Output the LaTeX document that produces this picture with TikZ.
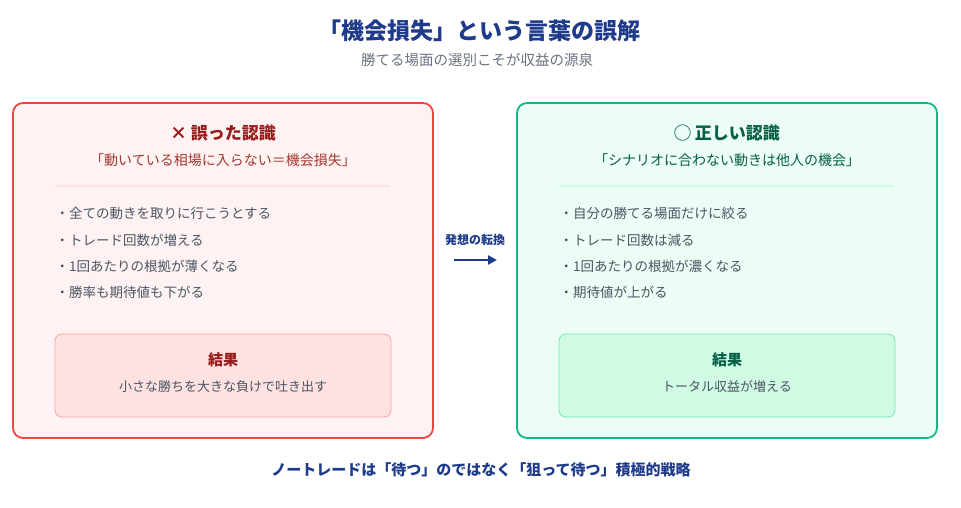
\documentclass[tikz,border=0pt]{standalone}
\usepackage{fontspec}
\setmainfont{Noto Sans CJK JP}
\usetikzlibrary{positioning,arrows.meta}
\definecolor{navy}{HTML}{1E3A8A}
\definecolor{grayt}{HTML}{6B7280}
\definecolor{bodyt}{HTML}{4B5563}
\definecolor{redline}{HTML}{EF4444}
\definecolor{redfill}{HTML}{FEF2F2}
\definecolor{redtext}{HTML}{991B1B}
\definecolor{redsub}{HTML}{A3392F}
\definecolor{redres}{HTML}{FEE2E2}
\definecolor{redresline}{HTML}{FCA5A5}
\definecolor{greenline}{HTML}{10B981}
\definecolor{greenfill}{HTML}{ECFDF5}
\definecolor{greentext}{HTML}{065F46}
\definecolor{greenres}{HTML}{D1FAE5}
\definecolor{greenresline}{HTML}{6EE7B7}
\tikzset{
  panel/.style={rounded corners=10pt, line width=1.8pt},
  resbox/.style={rounded corners=7pt, line width=0.8pt},
  head/.style={font=\fontsize{17}{19}\selectfont\bfseries},
  reshead/.style={font=\fontsize{15}{17}\selectfont\bfseries},
  quote/.style={font=\fontsize{14}{16}\selectfont},
  item/.style={font=\fontsize{13.5}{16}\selectfont, text=bodyt, anchor=west},
}
\begin{document}
\begin{tikzpicture}[x=1pt,y=-1pt]
  \useasboundingbox (0,0) rectangle (961,508);
  % Titel
  \node[font=\fontsize{23}{26}\selectfont\bfseries, text=navy] (title) at (479,31) {「機会損失」という言葉の誤解};
  \node[font=\fontsize{14.5}{16}\selectfont, text=grayt] (sub) at (477,60) {勝てる場面の選別こそが収益の源泉};
  % linke Seite
  \draw[panel, draw=redline, fill=redfill] (13,103) rectangle (433,438);
  \node[head, text=redtext] (lhead) at (223,133) {× 誤った認識};
  \node[quote, text=redsub] (lquote) at (223,160) {「動いている相場に入らない＝機会損失」};
  \draw[line width=1.5pt, draw=redres] (55,186) -- (390,186);
  \node[item] (l1) at (52,213) {・全ての動きを取りに行こうとする};
  \node[item] (l2) at (52,240) {・トレード回数が増える};
  \node[item] (l3) at (52,266) {・1回あたりの根拠が薄くなる};
  \node[item] (l4) at (52,292) {・勝率も期待値も下がる};
  \draw[resbox, draw=redresline, fill=redres] (55,334) rectangle (391,417);
  \node[reshead, text=redtext] (lres) at (223,360) {結果};
  \node[quote, font=\fontsize{13}{15}\selectfont, text=bodyt] (lrest) at (223,387) {小さな勝ちを大きな負けで吐き出す};
  % rechte Seite
  \draw[panel, draw=greenline, fill=greenfill] (517,103) rectangle (937,438);
  \node[head, text=greentext] (rhead) at (727,133) {◯ 正しい認識};
  \node[quote, text=greentext] (rquote) at (727,160) {「シナリオに合わない動きは他人の機会」};
  \draw[line width=1.5pt, draw=greenres] (559,186) -- (894,186);
  \node[item] (r1) at (556,213) {・自分の勝てる場面だけに絞る};
  \node[item] (r2) at (556,240) {・トレード回数は減る};
  \node[item] (r3) at (556,266) {・1回あたりの根拠が濃くなる};
  \node[item] (r4) at (556,292) {・期待値が上がる};
  \draw[resbox, draw=greenresline, fill=greenres] (559,334) rectangle (895,417);
  \node[reshead, text=greentext] (rres) at (727,360) {結果};
  \node[quote, font=\fontsize{13}{15}\selectfont, text=bodyt] (rrest) at (727,387) {トータル収益が増える};
  % Pfeil
  \node[font=\fontsize{12}{14}\selectfont\bfseries, text=navy] (shift) at (475,240) {発想の転換};
  \coordinate (a1) at (454,260);
  \coordinate (a2) at (497,260);
  \draw[-{Triangle[length=9pt,width=9pt]}, line width=2.5pt, navy] (a1) -- (a2);
  % Fuss
  \node[font=\fontsize{15}{17}\selectfont\bfseries, text=navy] (foot) at (481,470) {ノートレードは「待つ」のではなく「狙って待つ」積極的戦略};
\end{tikzpicture}
\end{document}
